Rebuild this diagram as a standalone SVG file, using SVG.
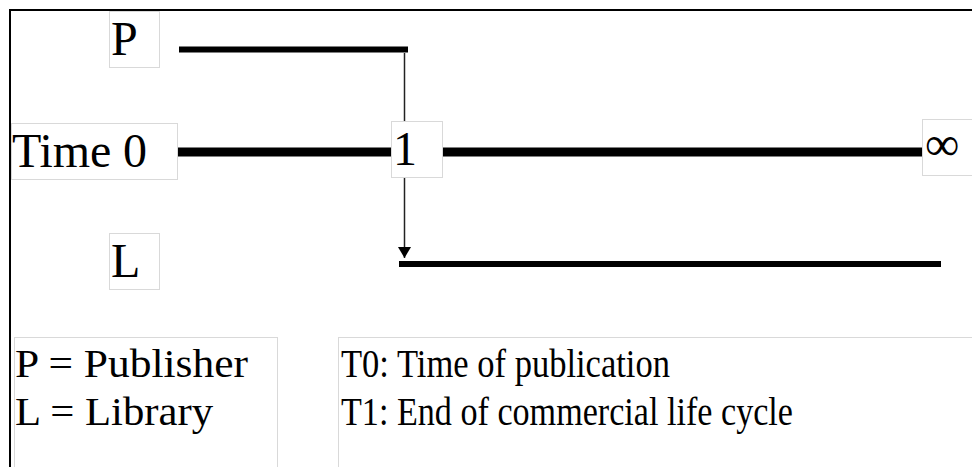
<svg xmlns="http://www.w3.org/2000/svg" width="972" height="467" viewBox="0 0 972 467" font-family="'Liberation Serif', 'Times New Roman', 'DejaVu Serif', serif">
  <style>
    .box { fill: #ffffff; stroke: #d9d9d9; stroke-width: 1; }
    text { font-family: 'Liberation Serif', 'Times New Roman', 'DejaVu Serif', serif; fill: #000; }
    .lbl { font-size: 48px; }
    .leg { font-size: 41px; }
    .bar { stroke: #000; stroke-linecap: butt; }
    .link { stroke: #222; stroke-width: 1.5; fill: none; }
  </style>
  <defs>
    <!-- solid arrowhead drawn pointing along +x; orient="auto" turns it with the line -->
    <marker id="arrow" markerUnits="userSpaceOnUse" markerWidth="12" markerHeight="14" refX="11" refY="6.5" orient="auto" viewBox="0 0 12 13">
      <path d="M0,0 L11,6.5 L0,13 Z" fill="#000"/>
    </marker>
  </defs>

  <rect width="972" height="467" fill="#ffffff"/>
  <!-- frame: top and left rule -->
  <path d="M10,467 L10,10 L972,10" fill="none" stroke="#000" stroke-width="2"/>

  <!-- timelines -->
  <g id="timelines">
    <line class="bar" x1="179" y1="49.5" x2="408" y2="49.5" stroke-width="6"/>
    <line class="bar" x1="176" y1="152" x2="923" y2="152" stroke-width="9"/>
    <line class="bar" x1="399" y1="264" x2="941" y2="264" stroke-width="6"/>
  </g>

  <!-- transfer from publisher to library -->
  <g id="connectors">
    <line class="link" x1="404.5" y1="53" x2="404.5" y2="258" marker-end="url(#arrow)"/>
  </g>

  <g id="node-p">
    <rect class="box" x="109.5" y="11.5" width="50" height="56"/>
    <text class="lbl" x="111" y="55">P</text>
  </g>

  <g id="node-time0">
    <rect class="box" x="11.5" y="123.5" width="166" height="56"/>
    <text class="lbl" x="12" y="167" textLength="135" lengthAdjust="spacing">Time 0</text>
  </g>

  <g id="node-t1">
    <rect class="box" x="391.5" y="121.5" width="51" height="56"/>
    <text class="lbl" x="393" y="165">1</text>
  </g>

  <g id="node-infinity">
    <rect class="box" x="922.5" y="119.5" width="60" height="56"/>
    <text class="lbl" x="925" y="160">∞</text>
  </g>

  <g id="node-l">
    <rect class="box" x="109.5" y="233.5" width="50" height="56"/>
    <text class="lbl" x="111" y="277">L</text>
  </g>

  <g id="legend-parties">
    <rect class="box" x="14.5" y="337.5" width="263" height="140"/>
    <text class="leg" x="15" y="377" textLength="233" lengthAdjust="spacingAndGlyphs">P = Publisher</text>
    <text class="leg" x="15" y="425" textLength="198" lengthAdjust="spacingAndGlyphs">L = Library</text>
  </g>

  <g id="legend-times">
    <rect class="box" x="338.5" y="337.5" width="650" height="140"/>
    <text class="leg" x="341" y="377" textLength="329" lengthAdjust="spacingAndGlyphs">T0: Time of publication</text>
    <text class="leg" x="341" y="425" textLength="452" lengthAdjust="spacingAndGlyphs">T1: End of commercial life cycle</text>
  </g>
</svg>
